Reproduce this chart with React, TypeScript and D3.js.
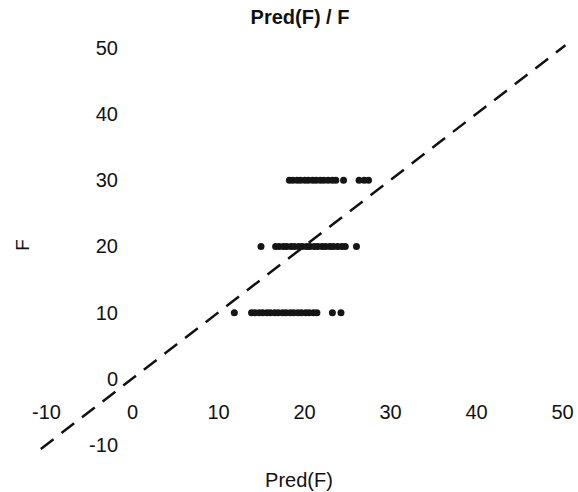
import React, { useEffect, useRef } from 'react';
import * as d3 from 'd3';

const levels = [10, 20, 30];
const pred10 = [11.9, 13.9, 14.3, 14.8, 15.2, 15.7, 16.1, 16.6, 17.0, 17.5, 17.9, 18.4, 18.8, 19.3, 19.7, 20.2, 20.6, 21.1, 21.5, 23.3, 24.3];
const pred20 = [15.0, 16.7, 17.1, 17.6, 18.0, 18.5, 18.9, 19.4, 19.8, 20.3, 20.7, 21.2, 21.6, 22.1, 22.5, 23.0, 23.4, 23.9, 24.4, 24.8, 26.1];
const pred30 = [18.3, 18.7, 19.2, 19.6, 20.1, 20.5, 21.0, 21.4, 21.9, 22.3, 22.8, 23.3, 23.7, 24.6, 26.4, 27.0, 27.5];
const xTicks = [-10, 0, 10, 20, 30, 40, 50];
const yTicks = [-10, 0, 10, 20, 30, 40, 50];
const refLine = [-10.6, 50.4];

const W = 578;
const H = 492;

const App = () => {
    const ref = useRef<SVGSVGElement>(null);

    useEffect(() => {
        const svg = d3.select(ref.current);
        svg.selectAll('*').remove();

        const x = d3.scaleLinear().domain([-10, 50]).range([46, 562]);
        const y = d3.scaleLinear().domain([-10, 50]).range([445, 48]);

        const font = 'Liberation Sans, Arial, sans-serif';

        // identity line
        svg.append('path')
            .datum(refLine)
            .attr('d', d3.line<number>().x(d => x(d)).y(d => y(d)))
            .attr('fill', 'none')
            .attr('stroke', '#111')
            .attr('stroke-width', 2.5)
            .attr('stroke-dasharray', '16,10');

        // points
        const rows = [pred10, pred20, pred30];
        rows.forEach((vals, i) => {
            svg.append('g').selectAll('circle')
                .data(vals)
                .join('circle')
                .attr('cx', d => x(d))
                .attr('cy', y(levels[i]))
                .attr('r', 3.5)
                .attr('fill', '#151515');
        });

        // x tick labels (no axis line)
        const gx = svg.append('g')
            .attr('transform', 'translate(0,405)')
            .call(d3.axisBottom(x).tickValues(xTicks).tickSize(0).tickPadding(0).tickFormat(d => String(d)));
        gx.select('.domain').remove();
        gx.selectAll('text').attr('font-size', 20).attr('font-family', font).attr('fill', '#111');

        // y tick labels
        const gy = svg.append('g')
            .attr('transform', 'translate(118,0)')
            .call(d3.axisLeft(y).tickValues(yTicks).tickSize(0).tickPadding(0).tickFormat(d => String(d)));
        gy.select('.domain').remove();
        gy.selectAll('text').attr('font-size', 20).attr('font-family', font).attr('fill', '#111');

        // titles
        svg.append('text')
            .attr('x', 300).attr('y', 24)
            .attr('text-anchor', 'middle')
            .attr('font-family', font).attr('font-weight', 'bold').attr('font-size', 20)
            .attr('fill', '#111')
            .text('Pred(F) / F');

        svg.append('text')
            .attr('x', 299).attr('y', 487)
            .attr('text-anchor', 'middle')
            .attr('font-family', font).attr('font-size', 20)
            .attr('fill', '#111')
            .text('Pred(F)');

        svg.append('text')
            .attr('transform', 'translate(29,245) rotate(-90)')
            .attr('text-anchor', 'middle')
            .attr('font-family', font).attr('font-size', 19)
            .attr('fill', '#111')
            .text('F');
    }, []);

    return (
        <svg ref={ref} width={W} height={H} style={{ display: 'block', position: 'absolute', left: 0, top: 0, background: '#fff' }} />
    );
};

export default App;
